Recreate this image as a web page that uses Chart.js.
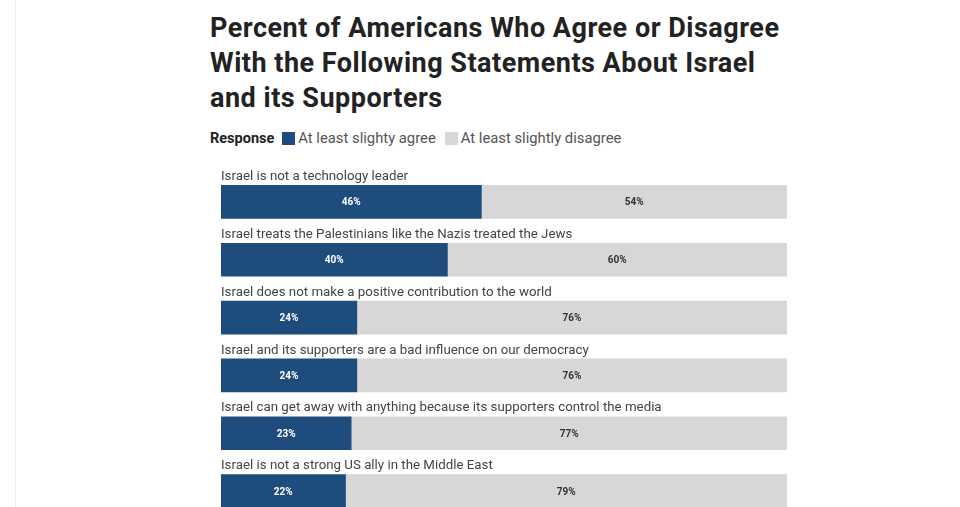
<!DOCTYPE html>
<html>
<head>
<meta charset="utf-8">
<script src="https://cdn.jsdelivr.net/npm/chart.js@4"></script>
<style>
  html, body { margin: 0; padding: 0; background: #fff; overflow: hidden; }
  body { width: 960px; height: 507px; position: relative; font-family: Roboto, sans-serif; }
  .rule { position: absolute; left: 15px; top: 0; width: 1px; height: 507px; background: #ececec; }
  h1 { position: absolute; left: 210px; top: 11px; margin: 0; font-family: Roboto, sans-serif; font-weight: 700;
       font-size: 27px; line-height: 35px; color: #222; letter-spacing: 0.5px; white-space: nowrap; }
  .legend { position: absolute; left: 210px; top: 129px; font-size: 14.8px; color: #555; display: flex; align-items: center; }
  .legend b { color: #222; margin-right: 8px; font-size: 14.5px; }
  .legend .sw { width: 13px; height: 13px; display: inline-block; margin-right: 3px; }
  .legend span.lbl { margin-right: 9px; }
  #wrap { position: absolute; left: 0; top: 150px; width: 960px; height: 370px; }
</style>
</head>
<body>
<div class="rule"></div>
<h1>Percent of Americans Who Agree or Disagree<br>With the Following Statements About Israel<br>and its Supporters</h1>
<div class="legend">
  <b>Response</b>
  <span class="sw" style="background:#1e4d7d"></span><span class="lbl">At least slighty agree</span>
  <span class="sw" style="background:#d7d7d7"></span><span class="lbl">At least slightly disagree</span>
</div>
<div id="wrap"><canvas id="myChart"></canvas></div>
<script>
const statements = [
  "Israel is not a technology leader",
  "Israel treats the Palestinians like the Nazis treated the Jews",
  "Israel does not make a positive contribution to the world",
  "Israel and its supporters are a bad influence on our democracy",
  "Israel can get away with anything because its supporters control the media",
  "Israel is not a strong US ally in the Middle East"
]
const agree = [46, 40, 24, 24, 23, 22]
const disagree = [54, 60, 76, 76, 77, 79]

const blue = "#1e4d7d"
const gray = "#d7d7d7"

// labels above each bar + percent labels inside segments
const barText = {
  id: "barText",
  afterDatasetsDraw(chart) {
    const ctx = chart.ctx
    ctx.save()
    const first = chart.getDatasetMeta(0)
    ctx.font = "13.3px Roboto, sans-serif"
    ctx.fillStyle = "#444"
    ctx.textAlign = "left"
    ctx.textBaseline = "bottom"
    first.data.forEach((bar, i) => {
      ctx.fillText(statements[i], chart.chartArea.left, bar.y - bar.height / 2 - 2)
    })
    ctx.font = "bold 10px Roboto, sans-serif"
    ctx.textAlign = "center"
    ctx.textBaseline = "middle"
    chart.data.datasets.forEach((ds, d) => {
      const meta = chart.getDatasetMeta(d)
      meta.data.forEach((bar, i) => {
        const left = Math.min(bar.base, bar.x)
        const right = Math.min(Math.max(bar.base, bar.x), chart.chartArea.right)
        ctx.fillStyle = d === 0 ? "#fff" : "#333"
        ctx.fillText(ds.data[i] + "%", (left + right) / 2, bar.y + 1)
      })
    })
    ctx.restore()
  }
}

const config = {
  type: "bar",
  data: {
    labels: statements,
    datasets: [
      { label: "At least slighty agree", data: agree, backgroundColor: blue, barThickness: 33 },
      { label: "At least slightly disagree", data: disagree, backgroundColor: gray, barThickness: 33 }
    ]
  },
  options: {
    indexAxis: "y",
    responsive: true,
    maintainAspectRatio: false,
    animation: false,
    layout: { padding: { left: 221, right: 173, top: 23, bottom: 0 } },
    scales: {
      x: { stacked: true, min: 0, max: 100, display: false },
      y: { stacked: true, display: false }
    },
    plugins: {
      legend: { display: false },
      tooltip: { enabled: false }
    }
  },
  plugins: [barText]
}

const MyChart = new Chart(document.getElementById("myChart"), config)
</script>
</body>
</html>
